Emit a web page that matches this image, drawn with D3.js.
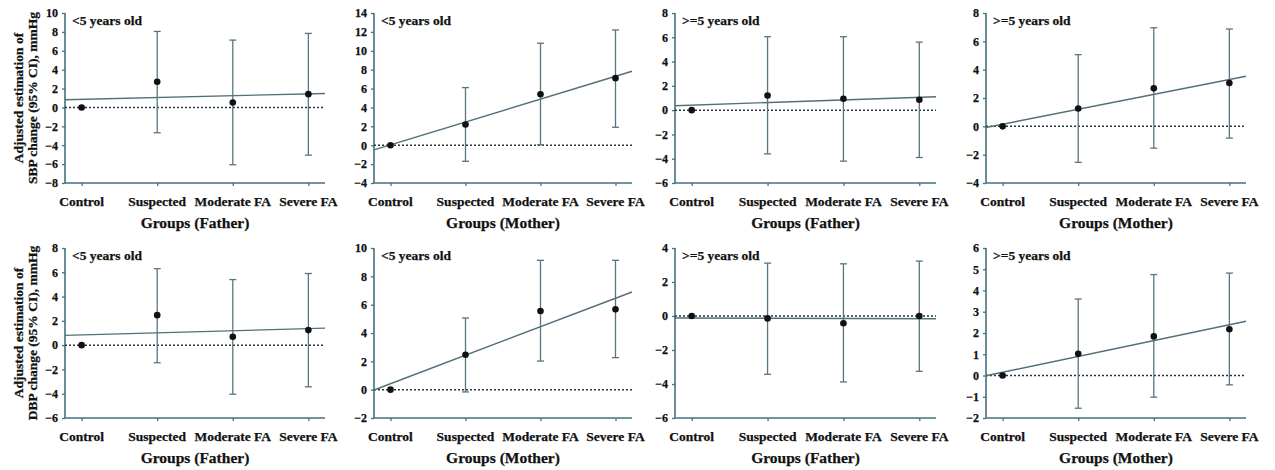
<!DOCTYPE html>
<html lang="en">
<head>
    <meta charset="UTF-8">
    <title>FA groups and blood pressure</title>
    <script src="https://d3js.org/d3.v7.min.js"></script>
    <style>
        body {
            margin: 0;
            background: white;
        }
        svg {
            display: block;
        }
        text {
            font-family: "Liberation Serif", "Times New Roman", serif;
            font-weight: bold;
            fill: #111;
            stroke: #111;
            stroke-width: 0.25px;
        }
    </style>
</head>
<body>
    <svg></svg>
    <script>
        // Categories and panel labels
        var groups = ["Control", "Suspected", "Moderate FA", "Severe FA"];
        var parents = ["Father", "Mother", "Father", "Mother"];
        var ageLabels = ["<5 years old", "<5 years old", ">=5 years old", ">=5 years old"];

        // SBP row (estimate, 95% CI low/high, trend line value at Control and Severe FA)
        var sbpEst  = [[0, 2.72, 0.53, 1.41], [0, 2.2, 5.4, 7.1], [0, 1.2, 0.94, 0.86], [0, 1.26, 2.68, 3.06]];
        var sbpLow  = [[0, -2.68, -6.07, -5.05], [0, -1.7, 0.05, 1.9], [0, -3.6, -4.2, -3.9], [0, -2.54, -1.54, -0.83]];
        var sbpHigh = [[0, 8.05, 7.13, 7.84], [0, 6.1, 10.8, 12.2], [0, 6.05, 6.05, 5.6], [0, 5.06, 6.96, 6.87]];
        var sbpTrend = [[0.86, 1.44], [0.04, 7.3], [0.41, 1.06], [0.15, 3.3]];
        var sbpDomains = [[-8, 10], [-4, 14], [-6, 8], [-4, 8]];
        var sbpSteps = [2, 2, 2, 2];

        // DBP row
        var dbpEst  = [[0, 2.47, 0.69, 1.24], [0, 2.47, 5.55, 5.67], [0, -0.14, -0.43, 0], [0, 1.02, 1.84, 2.18]];
        var dbpLow  = [[0, -1.45, -4.04, -3.43], [0, -0.16, 2.02, 2.26], [0, -3.43, -3.88, -3.25], [0, -1.54, -1.02, -0.44]];
        var dbpHigh = [[0, 6.3, 5.4, 5.9], [0, 5.06, 9.13, 9.13], [0, 3.11, 3.07, 3.23], [0, 3.6, 4.75, 4.82]];
        var dbpTrend = [[0.84, 1.36], [0.42, 6.45], [-0.12, -0.16], [0.15, 2.39]];
        var dbpDomains = [[-6, 8], [-2, 10], [-6, 4], [-2, 6]];
        var dbpSteps = [2, 2, 2, 1];

        var svg = d3.select("svg").attr("width", 1275).attr("height", 470);

        var axisColor = "#43717f";
        var barColor = "#587580";

        // panel frames: x range of each column, y range of each row
        var colX = [[65, 325], [374, 632], [675, 936], [986, 1246]];
        var rowY = [[13, 183], [248, 418]];

        var rows = [
            {name: "SBP", est: sbpEst, low: sbpLow, high: sbpHigh, trend: sbpTrend, domains: sbpDomains, steps: sbpSteps},
            {name: "DBP", est: dbpEst, low: dbpLow, high: dbpHigh, trend: dbpTrend, domains: dbpDomains, steps: dbpSteps}
        ];

        rows.forEach(function(row, r) {
            var y0 = rowY[r][0], y1 = rowY[r][1];

            // y axis title for the row
            var tg = svg.append("g").attr("transform", "translate(0," + ((y0 + y1) / 2) + ") rotate(-90)");
            tg.append("text").attr("x", 0).attr("y", 23).attr("text-anchor", "middle")
                .style("font-size", "13.5px").text("Adjusted estimation of");
            tg.append("text").attr("x", 0).attr("y", 37).attr("text-anchor", "middle")
                .style("font-size", "13.5px").text(row.name + " change (95% CI), mmHg");

            for (var c = 0; c < 4; c++) {
                drawPanel(row, r, c, colX[c][0], colX[c][1], y0, y1);
            }
        });

        function drawPanel(row, r, c, xa, xb, ya, yb) {
            var g = svg.append("g");
            var x = d3.scalePoint().domain(groups).range([xa, xb]).padding(0.22);
            var y = d3.scaleLinear().domain(row.domains[c]).range([yb, ya]);
            var step = row.steps[c];
            var ticks = d3.range(row.domains[c][0], row.domains[c][1] + step / 2, step);

            // axes
            var yAxis = g.append("g").attr("transform", "translate(" + xa + ",0)")
                .call(d3.axisLeft(y).tickValues(ticks).tickSize(3).tickSizeOuter(0).tickFormat(d3.format("d")));
            var xAxis = g.append("g").attr("transform", "translate(0," + yb + ")")
                .call(d3.axisBottom(x).tickSize(3).tickSizeOuter(0).tickFormat(""));
            [yAxis, xAxis].forEach(function(a) {
                a.select(".domain").attr("stroke", axisColor).attr("stroke-width", 1.6);
                a.selectAll(".tick line").attr("stroke", axisColor).attr("stroke-width", 1.3);
            });
            xAxis.select(".domain").attr("d", "M" + xa + ",0H" + xb);
            yAxis.select(".domain").attr("d", "M0," + ya + "V" + yb);
            yAxis.selectAll(".tick text").attr("x", -7).style("font-size", "12px")
                .style("font-family", "Liberation Serif").style("font-weight", "bold").attr("fill", "#111");

            // category labels
            g.selectAll(".cat").data(groups).enter().append("text")
                .attr("x", function(d) { return x(d); })
                .attr("y", yb + 22.5)
                .attr("text-anchor", "middle")
                .style("font-size", "13.5px")
                .text(function(d) { return d; });

            g.append("text").attr("x", (xa + xb) / 2).attr("y", yb + 44.5)
                .attr("text-anchor", "middle").style("font-size", "15.5px")
                .text("Groups (" + parents[c] + ")");

            g.append("text").attr("x", xa + 7).attr("y", ya + 12)
                .style("font-size", "13.5px").text(ageLabels[c]);

            // zero reference line
            g.append("line").attr("x1", xa).attr("x2", xb).attr("y1", y(0)).attr("y2", y(0))
                .attr("stroke", "#22343a").attr("stroke-width", 1.5).attr("stroke-dasharray", "2,2");

            // trend line, extended across the axis
            var first = x(groups[0]), last = x(groups[3]);
            var t = d3.scaleLinear().domain([first, last]).range(row.trend[c]);
            g.append("line").attr("x1", xa).attr("x2", xb)
                .attr("y1", y(t(xa))).attr("y2", y(t(xb)))
                .attr("stroke", "#52707a").attr("stroke-width", 1.4);

            // error bars
            var idx = d3.range(1, groups.length);
            var bars = g.selectAll(".bar").data(idx).enter().append("g")
                .attr("stroke", barColor).attr("stroke-width", 1.3);
            bars.append("line")
                .attr("x1", function(i) { return x(groups[i]); })
                .attr("x2", function(i) { return x(groups[i]); })
                .attr("y1", function(i) { return y(row.low[c][i]); })
                .attr("y2", function(i) { return y(row.high[c][i]); });
            bars.append("line")
                .attr("x1", function(i) { return x(groups[i]) - 3.5; })
                .attr("x2", function(i) { return x(groups[i]) + 3.5; })
                .attr("y1", function(i) { return y(row.high[c][i]); })
                .attr("y2", function(i) { return y(row.high[c][i]); });
            bars.append("line")
                .attr("x1", function(i) { return x(groups[i]) - 3.5; })
                .attr("x2", function(i) { return x(groups[i]) + 3.5; })
                .attr("y1", function(i) { return y(row.low[c][i]); })
                .attr("y2", function(i) { return y(row.low[c][i]); });

            // points
            g.selectAll(".pt").data(row.est[c]).enter().append("circle")
                .attr("cx", function(d, i) { return x(groups[i]); })
                .attr("cy", function(d) { return y(d); })
                .attr("r", 3.3)
                .attr("fill", "#111");
        }
    </script>
</body>
</html>
